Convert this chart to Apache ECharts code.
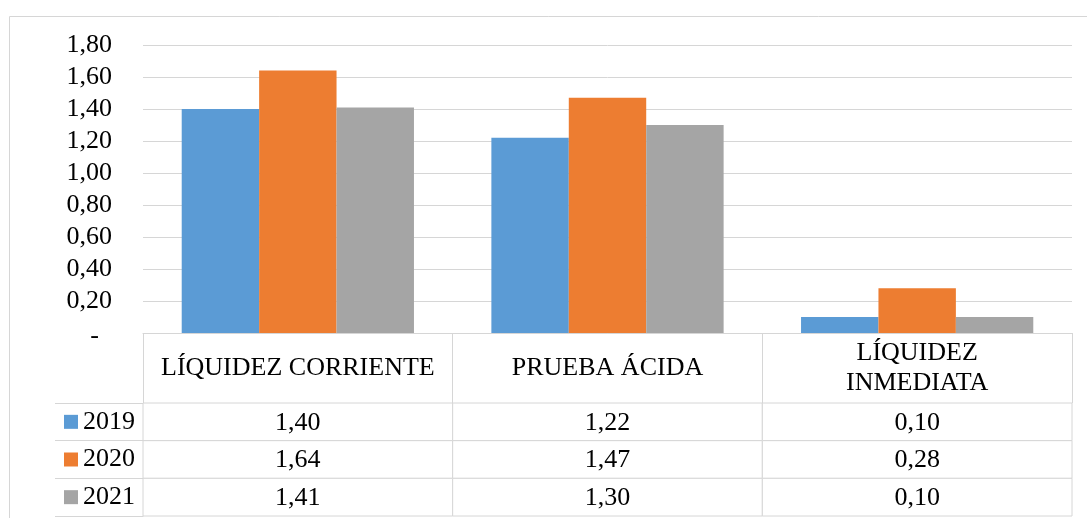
<!DOCTYPE html>
<html><head><meta charset="utf-8">
<script src="https://cdn.jsdelivr.net/npm/echarts@6/dist/echarts.min.js"></script>
<style>html,body{margin:0;padding:0;background:#fff}#c{width:1087px;height:518px}</style>
</head><body><div id="c"></div>
<script>
const categories = ['LÍQUIDEZ CORRIENTE', 'PRUEBA ÁCIDA', 'LÍQUIDEZ INMEDIATA'];
const years = ['2019', '2020', '2021'];
const v2019 = [1.40, 1.22, 0.10];
const v2020 = [1.64, 1.47, 0.28];
const v2021 = [1.41, 1.30, 0.10];
const yTicks = [0, 0.2, 0.4, 0.6, 0.8, 1.0, 1.2, 1.4, 1.6, 1.8];

const colors = ['#5B9BD5', '#ED7D31', '#A5A5A5'];
const seriesVals = [v2019, v2020, v2021];
const FONT = 'Liberation Serif';
const FS = 26;
const LINE = '#d6d6d6';
const fmt = v => v.toFixed(2).replace('.', ',');

const cellData = [];
seriesVals.forEach((arr, i) => arr.forEach((v, j) => cellData.push([j, i, v])));

const chart = echarts.init(document.getElementById('c'), null, {renderer: 'canvas'});
chart.setOption({
  animation: false,
  backgroundColor: '#fff',
  textStyle: {fontFamily: FONT},
  graphic: [{
    type: 'rect', z: -10, silent: true,
    shape: {x: 9.5, y: 16.5, width: 1200, height: 700},
    style: {fill: null, stroke: LINE, lineWidth: 1}
  }],
  grid: [
    {left: 143, right: 15, top: 45, bottom: 185},
    {left: 143, right: 15, top: 403, bottom: 2}
  ],
  xAxis: [{
    type: 'category', gridIndex: 0, data: categories,
    axisLine: {lineStyle: {color: LINE, width: 1}},
    axisTick: {show: true, interval: 0, length: 70, lineStyle: {color: LINE}},
    axisLabel: {
      interval: 0, margin: 35, verticalAlign: 'middle', lineHeight: 30,
      fontFamily: FONT, fontSize: FS, color: '#000',
      formatter: v => v === 'LÍQUIDEZ INMEDIATA' ? v.replace(' ', '\n') : v
    }
  }, {
    type: 'category', gridIndex: 1, data: categories, show: false
  }],
  yAxis: [{
    type: 'value', gridIndex: 0, min: 0, max: 1.8, interval: 0.2,
    axisLine: {show: false}, axisTick: {show: false},
    splitLine: {lineStyle: {color: LINE, width: 1}},
    axisLabel: {
      margin: 31, fontFamily: FONT, fontSize: FS, color: '#000',
      formatter: v => Math.abs(v) < 1e-9 ? '{z|-}' : fmt(v),
      rich: {z: {fontFamily: FONT, fontSize: FS, color: '#000', padding: [6, 13, 0, 0]}}
    }
  }, {
    type: 'category', gridIndex: 1, data: years, inverse: true,
    axisLine: {show: true, lineStyle: {color: LINE}},
    axisTick: {show: true, interval: 0, length: 88, lineStyle: {color: LINE}},
    splitLine: {show: false},
    axisLabel: {
      margin: 8, align: 'right', interval: 0,
      formatter: (v, i) => '{s' + i + '| }{t|' + v + '}',
      rich: {
        s0: {width: 14, height: 14, backgroundColor: colors[0]},
        s1: {width: 14, height: 14, backgroundColor: colors[1]},
        s2: {width: 14, height: 14, backgroundColor: colors[2]},
        t: {fontFamily: FONT, fontSize: FS, color: '#000', padding: [0, 0, 0, 5]}
      }
    }
  }, {
    type: 'category', gridIndex: 1, data: years, inverse: true, offset: 88,
    axisLine: {show: true, lineStyle: {color: LINE}},
    axisTick: {show: false}, axisLabel: {show: false}, splitLine: {show: false}
  }],
  series: [
    ...years.map((y, i) => ({
      name: y, type: 'bar', xAxisIndex: 0, yAxisIndex: 0,
      data: seriesVals[i], barGap: '0%', barCategoryGap: '25%',
      itemStyle: {color: colors[i]}
    })),
    {
      type: 'custom', xAxisIndex: 1, yAxisIndex: 1, data: cellData,
      renderItem: (params, api) => {
        const c = api.coord([api.value(0), api.value(1)]);
        const s = api.size([1, 1]);
        return {
          type: 'group', children: [
            {type: 'rect', shape: {x: c[0] - s[0] / 2, y: c[1] - s[1] / 2, width: s[0], height: s[1]},
             style: {fill: '#fff', stroke: LINE, lineWidth: 1}},
            {type: 'text', style: {text: fmt(api.value(2)), x: c[0], y: c[1] + 1,
             align: 'center', verticalAlign: 'middle', fontFamily: FONT, fontSize: FS, fill: '#000'}}
          ]
        };
      }
    }
  ]
});
</script></body></html>
